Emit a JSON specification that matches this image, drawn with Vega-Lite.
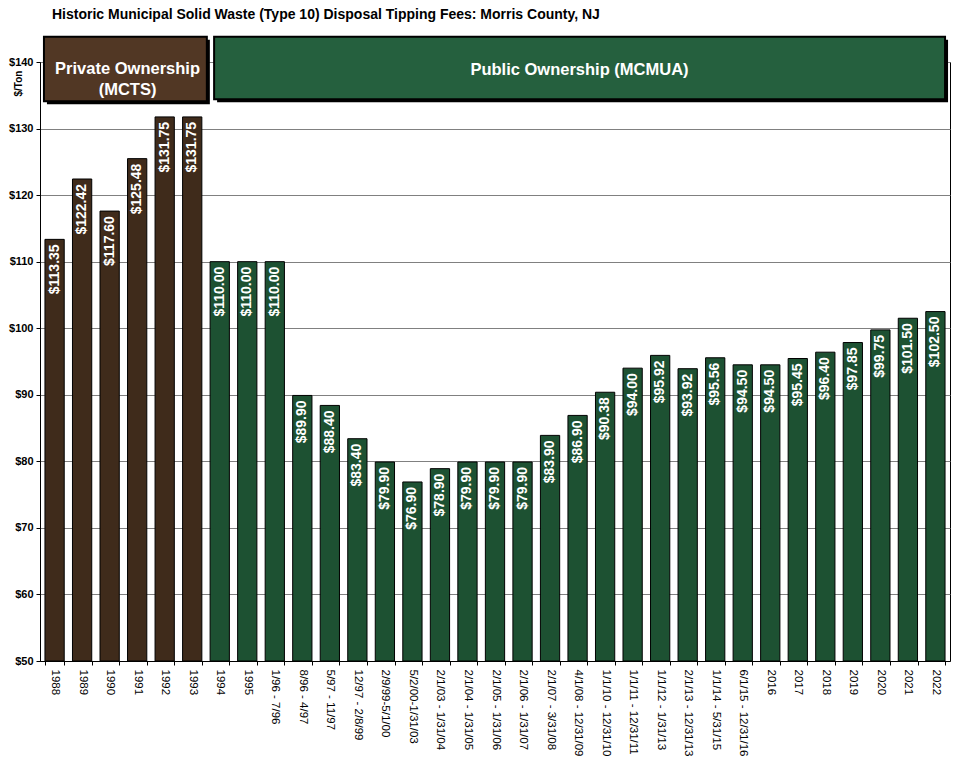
{
  "$schema": "https://vega.github.io/schema/vega-lite/v6.json",
  "width": 910,
  "height": 599,
  "autosize": {"type": "none"},
  "padding": {"left": 40, "top": 62, "right": 11, "bottom": 111},
  "background": "white",
  "title": {
    "text": "Historic Municipal Solid Waste (Type 10) Disposal Tipping Fees: Morris County, NJ",
    "anchor": "start",
    "frame": "group",
    "font": "Liberation Sans",
    "fontSize": 14,
    "fontWeight": "bold",
    "color": "black",
    "dx": 12,
    "offset": 14
  },
  "config": {
    "view": {"stroke": "black", "strokeWidth": 1},
    "font": "Liberation Sans"
  },
  "datasets": {
    "fees": [
      {"period": "1988", "fee": 113.35, "owner": "Private"},
      {"period": "1989", "fee": 122.42, "owner": "Private"},
      {"period": "1990", "fee": 117.60, "owner": "Private"},
      {"period": "1991", "fee": 125.48, "owner": "Private"},
      {"period": "1992", "fee": 131.75, "owner": "Private"},
      {"period": "1993", "fee": 131.75, "owner": "Private"},
      {"period": "1994", "fee": 110.00, "owner": "Public"},
      {"period": "1995", "fee": 110.00, "owner": "Public"},
      {"period": "1/96 - 7/96", "fee": 110.00, "owner": "Public"},
      {"period": "8/96 - 4/97", "fee": 89.90, "owner": "Public"},
      {"period": "5/97 - 11/97", "fee": 88.40, "owner": "Public"},
      {"period": "12/97 - 2/8/99", "fee": 83.40, "owner": "Public"},
      {"period": "2/9/99-5/1/00", "fee": 79.90, "owner": "Public"},
      {"period": "5/2/00-1/31/03", "fee": 76.90, "owner": "Public"},
      {"period": "2/1/03 - 1/31/04", "fee": 78.90, "owner": "Public"},
      {"period": "2/1/04 - 1/31/05", "fee": 79.90, "owner": "Public"},
      {"period": "2/1/05 - 1/31/06", "fee": 79.90, "owner": "Public"},
      {"period": "2/1/06 - 1/31/07", "fee": 79.90, "owner": "Public"},
      {"period": "2/1/07 - 3/31/08", "fee": 83.90, "owner": "Public"},
      {"period": "4/1/08 - 12/31/09", "fee": 86.90, "owner": "Public"},
      {"period": "1/1/10 - 12/31/10", "fee": 90.38, "owner": "Public"},
      {"period": "1/1/11 - 12/31/11", "fee": 94.00, "owner": "Public"},
      {"period": "1/1/12 - 1/31/13", "fee": 95.92, "owner": "Public"},
      {"period": "2/1/13 - 12/31/13", "fee": 93.92, "owner": "Public"},
      {"period": "1/1/14 - 5/31/15", "fee": 95.56, "owner": "Public"},
      {"period": "6/1/15 - 12/31/16", "fee": 94.50, "owner": "Public"},
      {"period": "2016", "fee": 94.50, "owner": "Public"},
      {"period": "2017", "fee": 95.45, "owner": "Public"},
      {"period": "2018", "fee": 96.40, "owner": "Public"},
      {"period": "2019", "fee": 97.85, "owner": "Public"},
      {"period": "2020", "fee": 99.75, "owner": "Public"},
      {"period": "2021", "fee": 101.50, "owner": "Public"},
      {"period": "2022", "fee": 102.50, "owner": "Public"}
    ],
    "banners": [
      {"start": "1988", "end": "1993", "owner": "Private banner", "label": "Private Ownership\n(MCTS)", "mid": "1991"},
      {"start": "1994", "end": "2022", "owner": "Public banner", "label": "Public Ownership (MCMUA)", "mid": "4/1/08 - 12/31/09"}
    ]
  },
  "encoding": {
    "x": {
      "field": "period",
      "type": "nominal",
      "sort": null,
      "scale": {"paddingInner": 0.3, "paddingOuter": 0.18},
      "axis": {
        "title": null,
        "labelAngle": 90,
        "labelAlign": "left",
        "labelBaseline": "middle",
        "labelFontSize": 11.5,
        "labelColor": "black",
        "labelPadding": 4,
        "labelLimit": 300,
        "tickBand": "extent",
        "tickSize": 4,
        "tickColor": "black",
        "domainColor": "black",
        "grid": false
      }
    }
  },
  "layer": [
    {
      "data": {"name": "fees"},
      "mark": {"type": "bar", "stroke": "black", "strokeWidth": 1},
      "encoding": {
        "y": {
          "field": "fee",
          "type": "quantitative",
          "scale": {"domain": [50, 140], "nice": false, "zero": false},
          "axis": {
            "title": "$/Ton",
            "titleX": -22,
            "titleY": 21,
            "titleAngle": -90,
            "titleAlign": "center",
            "titleBaseline": "middle",
            "titleFontSize": 10,
            "titleFontWeight": "bold",
            "titleColor": "black",
            "values": [50, 60, 70, 80, 90, 100, 110, 120, 130, 140],
            "labelExpr": "'$' + datum.value",
            "labelFontWeight": "bold",
            "labelFontSize": 11,
            "labelColor": "black",
            "labelPadding": 3,
            "tickSize": 4,
            "tickColor": "black",
            "domainColor": "black",
            "grid": true,
            "gridColor": "#808080",
            "gridOpacity": 1
          }
        },
        "y2": {"datum": 50},
        "color": {
          "field": "owner",
          "type": "nominal",
          "scale": {
            "domain": ["Private", "Public", "Private banner", "Public banner"],
            "range": ["#3f2b1b", "#1d5132", "#513724", "#25603e"]
          },
          "legend": null
        }
      }
    },
    {
      "data": {"name": "fees"},
      "mark": {
        "type": "text",
        "angle": 270,
        "align": "right",
        "baseline": "middle",
        "dx": -5,
        "color": "white",
        "fontSize": 14,
        "fontWeight": "bold",
        "font": "Liberation Sans"
      },
      "encoding": {
        "y": {"field": "fee", "type": "quantitative"},
        "text": {"field": "fee", "type": "quantitative", "format": "$.2f"}
      }
    },
    {
      "data": {"name": "banners"},
      "transform": [{"filter": "datum.owner === 'Private banner'"}],
      "mark": {"type": "rect", "color": "black", "xOffset": 2, "x2Offset": 8, "yOffset": 3, "y2Offset": 3},
      "encoding": {
        "x": {"field": "start", "type": "nominal", "bandPosition": 0},
        "x2": {"field": "end", "bandPosition": 1},
        "y": {"datum": 143.8},
        "y2": {"datum": 134.1}
      }
    },
    {
      "data": {"name": "banners"},
      "transform": [{"filter": "datum.owner === 'Private banner'"}],
      "mark": {"type": "rect", "stroke": "black", "strokeWidth": 2, "xOffset": -1, "x2Offset": 5},
      "encoding": {
        "x": {"field": "start", "type": "nominal", "bandPosition": 0},
        "x2": {"field": "end", "bandPosition": 1},
        "y": {"datum": 143.8},
        "y2": {"datum": 134.1},
        "color": {"field": "owner", "type": "nominal", "legend": null}
      }
    },
    {
      "data": {"name": "banners"},
      "transform": [{"filter": "datum.owner === 'Public banner'"}],
      "mark": {"type": "rect", "color": "black", "xOffset": 7, "x2Offset": 3, "yOffset": 3, "y2Offset": 3},
      "encoding": {
        "x": {"field": "start", "type": "nominal", "bandPosition": 0},
        "x2": {"field": "end", "bandPosition": 1},
        "y": {"datum": 143.8},
        "y2": {"datum": 134.4}
      }
    },
    {
      "data": {"name": "banners"},
      "transform": [{"filter": "datum.owner === 'Public banner'"}],
      "mark": {"type": "rect", "stroke": "black", "strokeWidth": 2, "xOffset": 4, "x2Offset": 0},
      "encoding": {
        "x": {"field": "start", "type": "nominal", "bandPosition": 0},
        "x2": {"field": "end", "bandPosition": 1},
        "y": {"datum": 143.8},
        "y2": {"datum": 134.4},
        "color": {"field": "owner", "type": "nominal", "legend": null}
      }
    },
    {
      "data": {"name": "banners"},
      "transform": [{"filter": "datum.owner === 'Private banner'"}],
      "mark": {
        "type": "text",
        "align": "center",
        "baseline": "middle",
        "lineBreak": "\n",
        "lineHeight": 21,
        "color": "white",
        "fontSize": 16.5,
        "fontWeight": "bold",
        "font": "Liberation Sans"
      },
      "encoding": {
        "x": {"field": "mid", "type": "nominal", "bandPosition": 0},
        "y": {"datum": 139.0},
        "text": {"field": "label"}
      }
    },
    {
      "data": {"name": "banners"},
      "transform": [{"filter": "datum.owner === 'Public banner'"}],
      "mark": {
        "type": "text",
        "align": "center",
        "baseline": "middle",
        "color": "white",
        "fontSize": 16.5,
        "fontWeight": "bold",
        "font": "Liberation Sans"
      },
      "encoding": {
        "x": {"field": "mid", "type": "nominal", "bandPosition": 0.6},
        "y": {"datum": 138.8},
        "text": {"field": "label"}
      }
    }
  ]
}
